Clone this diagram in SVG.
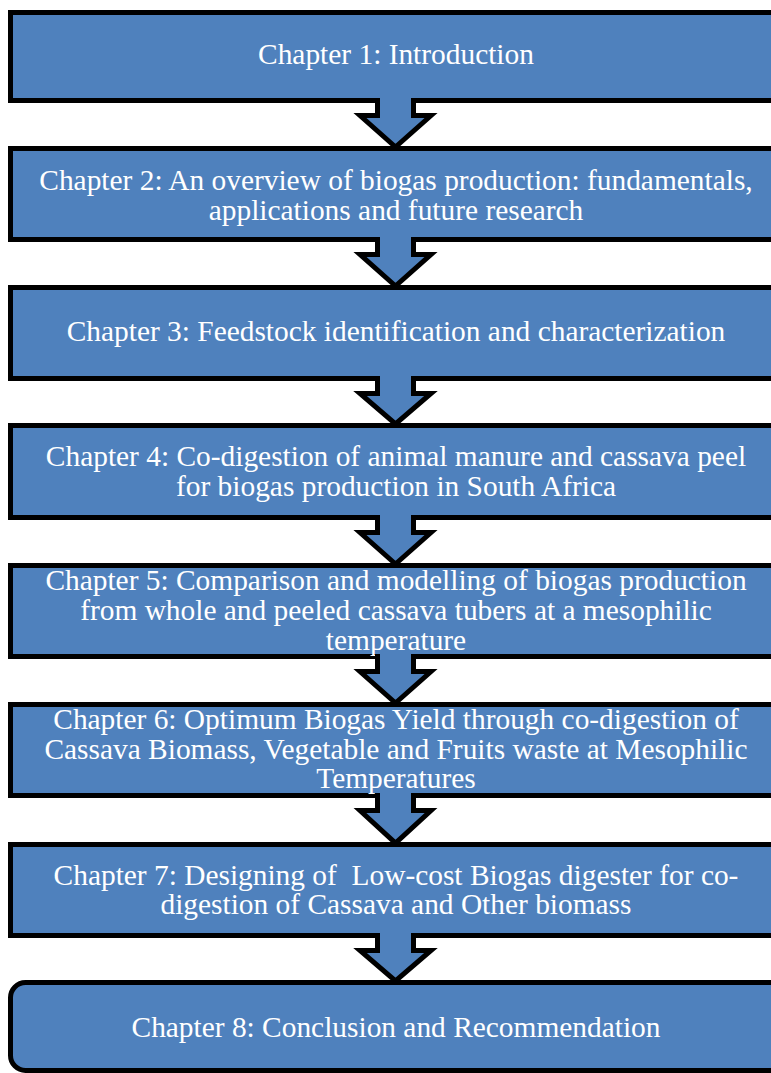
<svg xmlns="http://www.w3.org/2000/svg" width="771" height="1073" viewBox="0 0 771 1073">
<style>
.box{fill:#4F81BD;stroke:#000;stroke-width:5}
.arrow{fill:#4F81BD;stroke:#000;stroke-width:5;stroke-linejoin:miter}
.lbl{font-family:"Liberation Serif","Times New Roman",serif;font-size:29.4px;fill:#fff;text-anchor:middle;white-space:pre}
</style>
<rect width="771" height="1073" fill="#fff"/>
<g id="node1"><rect class="box" x="10.5" y="12.5" width="780" height="88"/>
<text class="lbl" x="396" y="64">Chapter 1: Introduction</text></g>
<g id="node2"><rect class="box" x="10.5" y="148.5" width="780" height="91"/>
<text class="lbl" x="396" y="190">Chapter 2: An overview of biogas production: fundamentals,</text>
<text class="lbl" x="396" y="219.5">applications and future research</text></g>
<g id="node3"><rect class="box" x="10.5" y="287.5" width="780" height="91"/>
<text class="lbl" x="396" y="341">Chapter 3: Feedstock identification and characterization</text></g>
<g id="node4"><rect class="box" x="10.5" y="425.5" width="780" height="92"/>
<text class="lbl" x="396" y="466">Chapter 4: Co-digestion of animal manure and cassava peel</text>
<text class="lbl" x="396" y="495.5">for biogas production in South Africa</text></g>
<g id="node5"><rect class="box" x="10.5" y="565.5" width="780" height="91"/>
<text class="lbl" x="396" y="590">Chapter 5: Comparison and modelling of biogas production</text>
<text class="lbl" x="396" y="620">from whole and peeled cassava tubers at a mesophilic</text>
<text class="lbl" x="396" y="650">temperature</text></g>
<g id="node6"><rect class="box" x="10.5" y="704.5" width="780" height="91"/>
<text class="lbl" x="396" y="729">Chapter 6: Optimum Biogas Yield through co-digestion of</text>
<text class="lbl" x="396" y="758.5">Cassava Biomass, Vegetable and Fruits waste at Mesophilic</text>
<text class="lbl" x="396" y="788">Temperatures</text></g>
<g id="node7"><rect class="box" x="10.5" y="844.5" width="780" height="91"/>
<text class="lbl" x="396" y="885">Chapter 7: Designing of  Low-cost Biogas digester for co-</text>
<text class="lbl" x="396" y="914">digestion of Cassava and Other biomass</text></g>
<g id="node8"><rect class="box" x="10.5" y="982.5" width="780" height="88" rx="15" ry="15"/>
<text class="lbl" x="396" y="1037">Chapter 8: Conclusion and Recommendation</text></g>
<g id="connectors">
<path class="arrow" d="M377.5 98 V115.5 H360 L395.5 147 L431 115.5 H413.5 V98"/>
<path class="arrow" d="M377.5 237 V254.5 H360 L395.5 286 L431 254.5 H413.5 V237"/>
<path class="arrow" d="M377.5 376 V393.5 H360 L395.5 424 L431 393.5 H413.5 V376"/>
<path class="arrow" d="M377.5 515 V532.5 H360 L395.5 564 L431 532.5 H413.5 V515"/>
<path class="arrow" d="M377.5 654 V671.5 H360 L395.5 703 L431 671.5 H413.5 V654"/>
<path class="arrow" d="M377.5 793 V810.5 H360 L395.5 843 L431 810.5 H413.5 V793"/>
<path class="arrow" d="M377.5 933 V950.5 H360 L395.5 981 L431 950.5 H413.5 V933"/>
</g>
</svg>
